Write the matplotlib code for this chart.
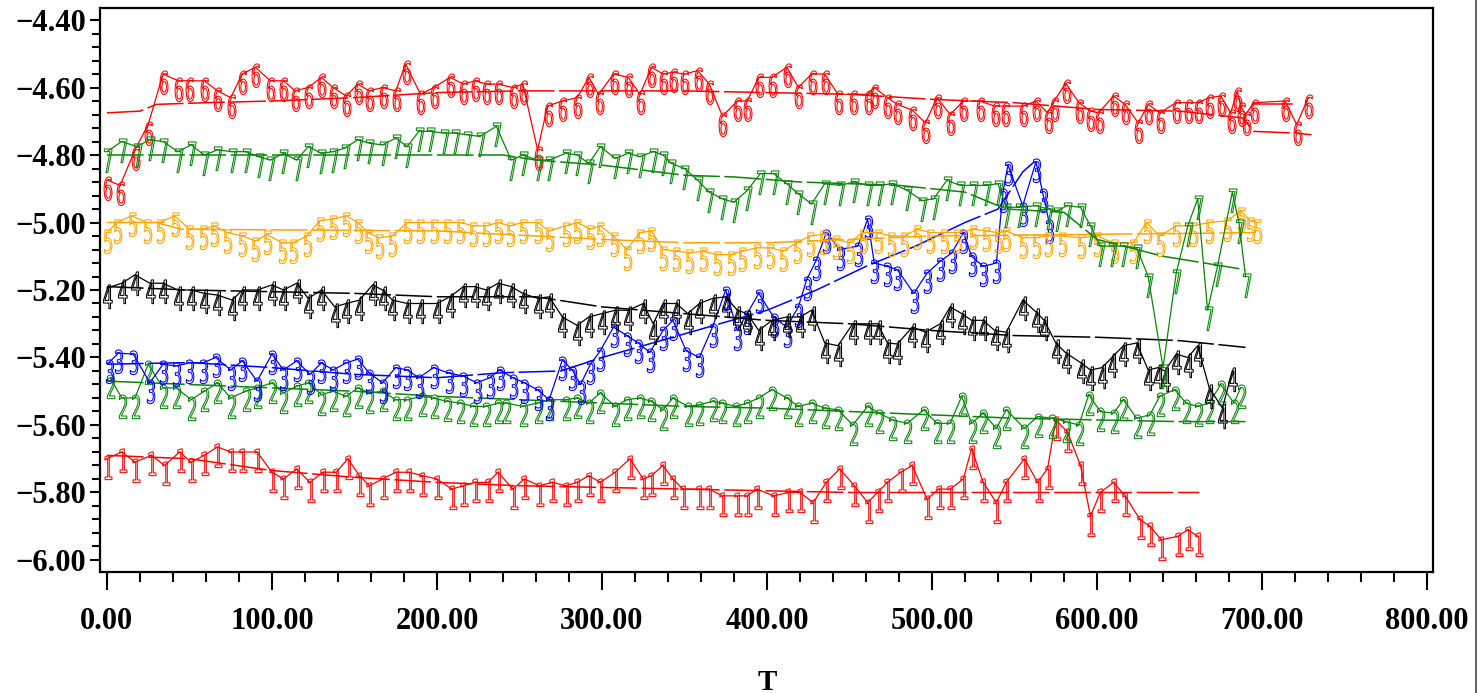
import numpy as np
import matplotlib.pyplot as plt
from matplotlib.textpath import TextPath
from matplotlib.font_manager import FontProperties
from matplotlib.path import Path
from matplotlib.ticker import MultipleLocator, FuncFormatter

# ---- data ----
t1 = [0, 9, 17, 27, 35, 44, 51, 59, 67, 75, 82, 91, 100, 107, 115, 123, 131, 139, 146, 153,
      159, 167, 175, 183, 191, 200, 209, 216, 223, 231, 237, 246, 253, 262, 270, 278, 285, 292, 299, 308,
      317, 325, 330, 337, 343, 349, 359, 365, 373, 382, 388, 394, 404, 413, 420, 428, 436, 444, 453, 461,
      467, 473, 481, 488, 497, 504, 511, 519, 524, 531, 539, 545, 556, 564, 570, 575, 582, 590, 596, 602,
      610, 617, 626, 632, 639, 649, 655, 661]
v1 = [-5.70, -5.68, -5.71, -5.69, -5.72, -5.68, -5.71, -5.69, -5.665, -5.68,
      -5.68, -5.68, -5.74, -5.76, -5.73, -5.77, -5.74, -5.74, -5.70, -5.75,
      -5.78, -5.76, -5.74, -5.74, -5.75, -5.76, -5.79, -5.78, -5.77, -5.77,
      -5.74, -5.79, -5.76, -5.78, -5.77, -5.78, -5.77, -5.75, -5.77, -5.74,
      -5.70, -5.76, -5.75, -5.72, -5.76, -5.79, -5.79, -5.79, -5.81, -5.81,
      -5.81, -5.79, -5.81, -5.80, -5.80, -5.83, -5.77, -5.73, -5.78, -5.83,
      -5.80, -5.77, -5.74, -5.72, -5.82, -5.79, -5.79, -5.76, -5.67, -5.77,
      -5.83, -5.77, -5.70, -5.77, -5.73, -5.585, -5.62, -5.72, -5.87, -5.80,
      -5.77, -5.81, -5.88, -5.90, -5.94, -5.93, -5.91, -5.93]
t1_fit = [0, 50, 100, 150, 200, 250, 300, 350, 400, 450, 500, 550, 600, 662]
v1_fit = [-5.69, -5.70, -5.735, -5.755, -5.77, -5.78, -5.785, -5.79, -5.795, -5.80, -5.80, -5.80, -5.80, -5.80]

t2 = [2, 9, 17, 25, 34, 42, 51, 59, 67, 75, 84, 91, 100, 107, 115, 122, 130, 137, 145, 152,
      159, 167, 175, 182, 191, 198, 206, 214, 222, 230, 237,
      242, 252, 261, 268, 278, 285, 292, 299, 308, 315, 323, 330, 337, 343, 352, 359, 367, 373, 381, 388,
      395, 403, 412, 419, 427, 435, 443, 452, 461, 468, 476, 485, 495, 503, 511, 518, 524, 531, 539,
      545, 556, 564, 573, 581, 589, 595, 602, 610, 616, 624, 632, 638, 647, 654, 661, 668, 675, 683, 687]
v2 = [-5.46, -5.52, -5.52, -5.42, -5.49, -5.49, -5.525, -5.50, -5.475, -5.52,
      -5.50, -5.49, -5.475, -5.505, -5.485, -5.475, -5.51, -5.50, -5.515, -5.49,
      -5.505, -5.50, -5.525, -5.525, -5.515, -5.52, -5.53, -5.535, -5.545, -5.545, -5.535,
      -5.535, -5.545, -5.535, -5.525, -5.525, -5.52, -5.535, -5.505, -5.545, -5.525,
      -5.52, -5.53, -5.555, -5.52, -5.545, -5.54, -5.53, -5.535, -5.545, -5.535,
      -5.52, -5.495, -5.52, -5.545, -5.535, -5.55, -5.555, -5.60, -5.545, -5.565,
      -5.585, -5.595, -5.555, -5.595, -5.595, -5.515, -5.595, -5.565, -5.61,
      -5.555, -5.61, -5.575, -5.58, -5.59, -5.60, -5.51, -5.56, -5.565, -5.525,
      -5.58, -5.57, -5.515, -5.495, -5.535, -5.545, -5.535, -5.48, -5.535, -5.49]
t2_fit = [0, 50, 100, 150, 200, 250, 300, 350, 400, 450, 500, 550, 600, 650, 690]
v2_fit = [-5.47, -5.48, -5.49, -5.50, -5.515, -5.525, -5.535, -5.545, -5.55, -5.56, -5.57, -5.58, -5.585, -5.59, -5.59]

t3 = [1, 7, 16, 26, 34, 42, 50, 58, 66, 75, 82, 91, 100, 107, 115, 123, 130, 137, 145, 152,
      159, 167, 175, 182, 189, 198, 207, 216, 224, 232, 238,
      246, 253, 261, 268, 276, 282, 287, 293, 299,
      307, 315, 322, 329, 337, 343, 351, 359, 367, 375,
      382, 388, 395, 404, 412, 419, 424, 430, 436, 444,
      455, 461, 465, 473, 479, 489, 497, 505, 512, 519,
      524, 531, 539, 543, 546, 555, 563, 567, 571]
v3 = [-5.416, -5.387, -5.39, -5.475, -5.42, -5.425, -5.416, -5.416, -5.40, -5.437,
      -5.41, -5.47, -5.39, -5.437, -5.41, -5.45, -5.416, -5.437, -5.416, -5.405,
      -5.446, -5.475, -5.43, -5.437, -5.46, -5.43, -5.446, -5.455, -5.475, -5.46, -5.437,
      -5.46, -5.475, -5.496, -5.525, -5.407, -5.437, -5.48, -5.42, -5.38,
      -5.31, -5.335, -5.357, -5.385, -5.32, -5.29, -5.38, -5.40, -5.31, -5.20,
      -5.32, -5.27, -5.21, -5.28, -5.31, -5.25, -5.17, -5.11, -5.03, -5.08,
      -5.07, -4.99, -5.12, -5.13, -5.14, -5.21, -5.15, -5.115, -5.09, -5.03,
      -5.10, -5.13, -5.12, -4.91, -4.83, -4.95, -4.82, -4.91, -5.00]
t3_fit = [0, 50, 100, 150, 200, 240, 275, 300, 350, 400, 430, 460, 490, 520, 540, 555, 562]
v3_fit = [-5.42, -5.415, -5.43, -5.45, -5.46, -5.445, -5.44, -5.40, -5.33, -5.26, -5.20, -5.13, -5.07, -5.00, -4.96, -4.85, -4.82]

t4 = [0, 9, 17, 26, 34, 43, 51, 59, 67, 76, 82, 91, 100, 107, 115, 122, 130, 138, 145, 153,
      161, 167, 173, 182, 190, 200, 208, 216, 223, 230, 237, 245, 252, 261, 268, 276, 285, 292, 300, 308,
      316, 325, 331, 337, 345, 352, 359, 367, 375, 382, 388, 395, 403, 412, 420, 427, 435, 443, 452, 461,
      467, 473, 479, 488, 496, 505, 511, 518, 524, 531, 538, 545, 555, 563, 568, 575, 581, 590, 596, 603,
      609, 616, 624, 631, 637, 641, 648, 655, 661, 668, 676, 682]
v4 = [-5.194, -5.18, -5.155, -5.18, -5.18, -5.20, -5.20, -5.21, -5.215, -5.23,
      -5.20, -5.20, -5.185, -5.20, -5.18, -5.225, -5.20, -5.25, -5.24, -5.23,
      -5.185, -5.20, -5.23, -5.24, -5.24, -5.24, -5.22, -5.19, -5.19, -5.20,
      -5.18, -5.19, -5.21, -5.225, -5.22, -5.28, -5.305, -5.28, -5.27, -5.26,
      -5.26, -5.24, -5.30, -5.24, -5.24, -5.27, -5.24, -5.225, -5.22, -5.26,
      -5.27, -5.32, -5.29, -5.28, -5.28, -5.26, -5.357, -5.365, -5.30, -5.30,
      -5.30, -5.357, -5.36, -5.31, -5.325, -5.30, -5.25, -5.27, -5.29, -5.29,
      -5.32, -5.325, -5.23, -5.265, -5.29, -5.357, -5.386, -5.415, -5.437, -5.43,
      -5.40, -5.365, -5.357, -5.437, -5.43, -5.44, -5.39, -5.40, -5.365, -5.49,
      -5.55, -5.44]
t4_fit = [0, 50, 150, 200, 260, 300, 350, 400, 450, 500, 550, 600, 650, 690]
v4_fit = [-5.19, -5.20, -5.21, -5.22, -5.22, -5.25, -5.27, -5.29, -5.30, -5.32, -5.335, -5.34, -5.35, -5.37]

t5 = [0, 6, 15, 24, 32, 41, 50, 58, 65, 73, 82, 90, 97, 106, 113, 121, 129, 137, 145, 152,
      158, 165, 173, 182, 190, 198, 206, 214, 222, 230, 237, 244, 252, 261, 268, 278, 285, 293, 299, 307,
      315, 323, 330, 337, 345, 353, 361, 370, 378, 385, 394, 402, 410, 418, 426, 434, 442, 450, 458, 467,
      475, 483, 491, 499, 507, 515, 525, 533, 540, 545, 555, 563, 570, 579, 590, 600, 610, 622, 630, 638,
      648, 658, 668, 679, 687, 693, 697]
v5 = [-5.03, -5.00, -4.98, -5.00, -5.00, -4.98, -5.02, -5.02, -5.01, -5.03,
      -5.04, -5.055, -5.035, -5.06, -5.06, -5.04, -4.995, -4.99, -4.98, -5.00,
      -5.03, -5.045, -5.04, -5.00, -5.00, -5.00, -5.00, -5.00, -5.01, -5.01,
      -5.00, -5.01, -5.00, -5.00, -5.025, -5.01, -5.00, -5.02, -5.01, -5.04,
      -5.08, -5.03, -5.025, -5.08, -5.085, -5.09, -5.085, -5.095, -5.095, -5.085,
      -5.075, -5.075, -5.085, -5.06, -5.04, -5.035, -5.05, -5.06, -5.03, -5.03,
      -5.04, -5.04, -5.02, -5.03, -5.03, -5.03, -5.02, -5.025, -5.03, -5.025,
      -5.045, -5.045, -5.04, -5.04, -5.045, -5.04, -5.06, -5.06, -5.00, -5.04,
      -5.01, -5.01, -5.00, -4.995, -4.965, -4.995, -5.00]
t5_fit = [0, 30, 45, 200, 300, 350, 400, 450, 500, 600, 697]
v5_fit = [-5.00, -5.00, -5.02, -5.025, -5.05, -5.06, -5.06, -5.05, -5.04, -5.035, -5.03]

t6 = [0, 8, 17, 25, 34, 43, 50, 59, 67, 75, 82, 90, 99, 107, 114, 122, 130, 137,
      145, 152, 159, 167, 175, 181, 190, 198, 208, 216, 223, 230, 237,
      246, 252, 261, 267, 276, 285, 292, 298, 307, 316, 323, 330, 337, 343, 350, 358,
      365, 373, 382, 388, 395, 403, 412, 419, 427, 435, 443, 452, 461, 465, 473, 479,
      488, 496, 503, 511, 519, 529, 538, 544, 555, 563, 570, 574, 581, 589, 596, 601,
      610, 617, 625, 631, 638, 648, 655, 661, 668, 675, 681, 685, 687, 690, 695, 714, 721, 728]
v6 = [-4.874, -4.89, -4.785, -4.71, -4.56, -4.58, -4.58, -4.58, -4.61, -4.63,
      -4.56, -4.54, -4.58, -4.58, -4.61, -4.60, -4.57, -4.60,
      -4.625, -4.59, -4.61, -4.60, -4.61, -4.53, -4.62, -4.60, -4.57, -4.59, -4.58, -4.59, -4.59,
      -4.60, -4.59, -4.785, -4.655, -4.64, -4.63, -4.57, -4.62,
      -4.56, -4.57, -4.62, -4.54, -4.56, -4.555, -4.56, -4.55,
      -4.59, -4.685, -4.64, -4.64, -4.57, -4.57, -4.54, -4.60,
      -4.56, -4.56, -4.62, -4.62, -4.62, -4.60, -4.63, -4.65,
      -4.667, -4.705, -4.63, -4.68, -4.64, -4.64, -4.655,
      -4.655, -4.655, -4.64, -4.675, -4.64, -4.587, -4.645, -4.67, -4.675,
      -4.625, -4.65, -4.705, -4.65, -4.675, -4.645, -4.645, -4.645,
      -4.63, -4.625, -4.675, -4.61, -4.655, -4.68, -4.645,
      -4.64, -4.71, -4.63]
t6_fit = [0, 20, 30, 60, 100, 150, 200, 250, 300, 350, 400, 450, 500, 550, 600, 650, 688, 695, 720, 730]
v6_fit = [-4.675, -4.67, -4.65, -4.645, -4.64, -4.63, -4.615, -4.61, -4.61, -4.61, -4.615, -4.62,
          -4.635, -4.645, -4.665, -4.67, -4.69, -4.73, -4.735, -4.74]
t6_fit2 = [695, 718]
v6_fit2 = [-4.65, -4.65]

t7 = [0, 9, 18, 26, 34, 43, 51, 59, 67, 76, 84, 92, 99, 107, 115, 122, 130, 137, 144, 152,
      159, 167, 175, 182, 189, 196, 204, 211, 218, 226, 236, 245, 252, 261, 268, 278, 285, 292, 299, 308,
      316, 323, 331, 337, 342, 350, 358, 365, 373, 380, 388, 396, 404, 412, 419, 427, 435, 444, 453, 461,
      468, 476, 485, 494, 501, 509, 517, 525, 533, 540, 545, 553, 563, 570, 576, 582, 590, 596, 602, 609,
      616, 624, 631, 640, 648, 655, 661, 667, 673, 682, 686, 690]
v7 = [-4.79, -4.76, -4.775, -4.755, -4.76, -4.79, -4.77, -4.80, -4.785, -4.79,
      -4.79, -4.805, -4.815, -4.795, -4.815, -4.775, -4.795, -4.79, -4.78, -4.755,
      -4.765, -4.77, -4.75, -4.775, -4.73, -4.73, -4.735, -4.735, -4.74, -4.745,
      -4.715, -4.815, -4.80, -4.815, -4.815, -4.795, -4.80, -4.825, -4.775, -4.81,
      -4.795, -4.805, -4.79, -4.80, -4.825, -4.84, -4.875, -4.91, -4.93, -4.94,
      -4.905, -4.855, -4.855, -4.885, -4.915, -4.945, -4.885, -4.89, -4.88, -4.89,
      -4.89, -4.885, -4.905, -4.935, -4.93, -4.875, -4.89, -4.89, -4.89, -4.885,
      -4.955, -4.955, -4.95, -4.96, -4.965, -4.95, -4.955, -5.01, -5.07, -5.07,
      -5.07, -5.075, -5.16, -5.43, -5.15, -5.01, -4.93, -5.26, -5.13, -4.91,
      -5.00, -5.16]
t7_fit = [0, 240, 260, 300, 350, 380, 420, 480, 520, 545, 580, 600, 640, 690]
v7_fit = [-4.80, -4.80, -4.815, -4.83, -4.86, -4.865, -4.88, -4.89, -4.91, -4.96, -4.97, -5.05, -5.10, -5.14]

series = [
    ('1', '#ff0000', t1, v1, t1_fit, v1_fit),
    ('2', '#0a850a', t2, v2, t2_fit, v2_fit),
    ('3', '#0000ff', t3, v3, t3_fit, v3_fit),
    ('4', '#000000', t4, v4, t4_fit, v4_fit),
    ('5', '#ffa500', t5, v5, t5_fit, v5_fit),
    ('6', '#ff0000', t6, v6, t6_fit, v6_fit),
    ('7', '#0a850a', t7, v7, t7_fit, v7_fit),
]


def glyph_marker(ch):
    # tall, narrow outline of the digit; the data point sits near its top
    tp = TextPath((0, 0), ch, size=1, prop=FontProperties(family='DejaVu Sans'))
    v = tp.vertices.copy()
    x0, x1 = v[:, 0].min(), v[:, 0].max()
    y0, y1 = v[:, 1].min(), v[:, 1].max()
    h = y1 - y0
    v[:, 0] = (v[:, 0] - (x0 + x1) / 2) / h * 0.5
    v[:, 1] = (v[:, 1] - y1) / h + 0.15
    return Path(v, tp.codes)


fig = plt.figure(figsize=(14.81, 6.93), dpi=100)
ax = fig.add_axes([100 / 1481, 1 - 572 / 693, 1333 / 1481, 564 / 693])

for ch, c, t, v, tf, vf in series:
    ax.plot(t, v, color=c, lw=0.9, marker=glyph_marker(ch), ms=29,
            mfc='none', mec=c, mew=0.75)
    ax.plot(tf, vf, color=c, lw=1.1, dashes=(24, 3))
ax.plot(t6_fit2, v6_fit2, color='#ff0000', lw=1.1)

ax.set_xlim(-4.2, 803.6)
ax.set_ylim(-6.0356, -4.3644)

ax.xaxis.set_major_locator(MultipleLocator(100))
ax.xaxis.set_minor_locator(MultipleLocator(20))
ax.yaxis.set_major_locator(MultipleLocator(0.2))
ax.yaxis.set_minor_locator(MultipleLocator(0.04))
fmt = FuncFormatter(lambda x, p: f"{x:.2f}".replace('-', '\u2212'))
ax.xaxis.set_major_formatter(fmt)
ax.yaxis.set_major_formatter(fmt)

lab_font = dict(family='Liberation Serif', weight='bold', size=22)
for lab in ax.get_xticklabels() + ax.get_yticklabels():
    lab.set_fontproperties(FontProperties(**lab_font))

ax.tick_params(axis='x', which='major', direction='out', length=13, width=1.5, pad=12)
ax.tick_params(axis='x', which='minor', direction='out', length=7, width=1.5)
ax.tick_params(axis='y', which='major', direction='out', length=7, width=1.5, pad=3)
ax.tick_params(axis='y', which='minor', direction='out', length=6, width=1.5)
for s in ax.spines.values():
    s.set_linewidth(1.6)

fig.text(767 / 1481, 1 - 682 / 693, 'T', ha='center', va='center',
         family='Liberation Serif', weight='bold', size=21)
fig.add_artist(plt.Line2D([1476 / 1481, 1476 / 1481], [0, 1], color='#444444', lw=1.2))

fig.savefig('out.png', dpi=100)
